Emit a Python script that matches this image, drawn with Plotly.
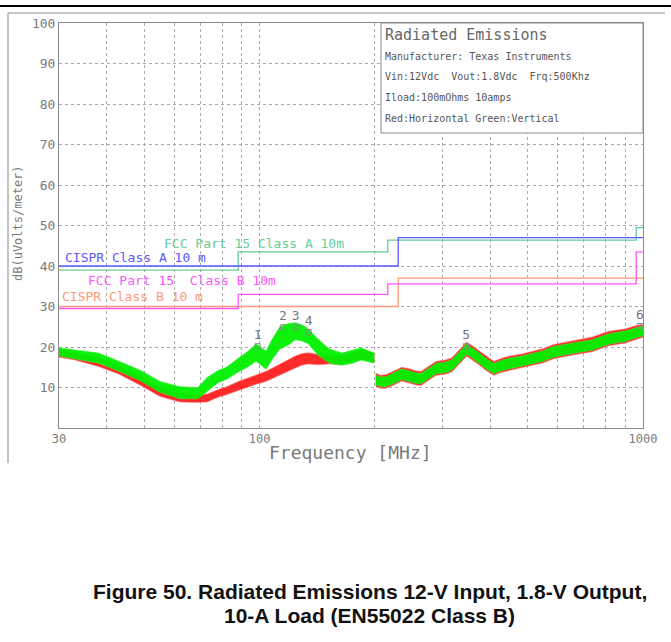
import plotly.graph_objects as go

W, H = 671, 642

# ---- limit lines (MHz breakpoints, dBuV/m) ----
fcc_a_freq = [30, 88, 216, 960, 1000]
fcc_a_level = [39.0, 43.5, 46.4, 49.5, 49.5]
cispr_a_freq = [30, 230, 1000]
cispr_a_level = [40.0, 47.0, 47.0]
fcc_b_freq = [30, 88, 216, 960, 1000]
fcc_b_level = [29.5, 33.0, 35.6, 43.5, 43.5]
cispr_b_freq = [30, 230, 1000]
cispr_b_level = [30.0, 37.0, 37.0]

# ---- measured sweeps: envelope of the noisy trace (upper / lower) ----
# band 1: 30 - 200 MHz
f1 = [30, 33, 38, 43, 49, 55, 62, 69, 73, 78, 82, 88, 93, 98, 104, 108,
      113, 119, 124, 129, 134, 142, 152, 164, 175, 184, 191, 199]
green1_hi = [19.8, 19.2, 18.5, 16.5, 14.2, 11.5, 10.2, 10.0, 12.5, 14.2, 15.0, 17.2, 18.8, 20.8,
             19.0, 22.0, 25.0, 25.8, 26.0, 25.5, 24.5, 22.0, 19.5, 18.5, 19.2, 19.8, 19.2, 18.5]
green1_lo = [17.8, 17.0, 16.0, 14.0, 11.6, 8.8, 7.2, 7.2, 9.0, 11.2, 12.0, 13.8, 15.0, 16.5,
             14.5, 17.0, 19.5, 20.5, 21.8, 21.5, 20.8, 18.0, 16.0, 15.5, 16.0, 16.8, 16.4, 16.0]
red1_hi = [19.5, 18.5, 17.2, 15.5, 12.8, 10.0, 8.4, 8.2, 8.4, 9.5, 10.2, 11.5, 12.3, 13.2,
           14.0, 14.8, 15.8, 16.8, 17.8, 18.4, 18.6, 18.2, 18.0, 17.8, 18.6, 19.4, 19.0, 18.5]
red1_lo = [17.5, 16.8, 15.2, 13.3, 10.5, 7.8, 6.4, 6.3, 6.4, 7.6, 8.2, 9.2, 10.0, 10.8,
           11.5, 12.2, 13.0, 14.0, 14.8, 15.5, 15.8, 15.6, 15.8, 15.6, 16.4, 17.0, 16.8, 16.2]

# band 2: 200 - 1000 MHz
f2 = [201, 207, 214, 224, 235, 247, 256, 264, 276, 289, 303, 317, 332, 347, 358, 370,
      388, 408, 430, 451, 483, 516, 550, 584, 628, 673, 737, 815, 901, 960, 1000]
green2_hi = [13.0, 12.6, 12.7, 13.6, 14.6, 14.1, 13.6, 13.5, 14.8, 16.0, 16.2, 16.8, 18.8, 20.8,
             19.8, 18.9, 17.3, 16.0, 16.8, 17.3, 17.8, 18.5, 19.1, 20.1, 20.7, 21.2, 21.8, 23.3,
             24.0, 24.8, 25.2]
green2_lo = [10.6, 10.2, 10.2, 11.0, 12.0, 11.5, 11.0, 10.9, 12.2, 13.4, 13.6, 14.2, 16.2, 18.2,
             17.2, 16.3, 14.7, 13.4, 14.2, 14.7, 15.2, 15.9, 16.5, 17.5, 18.1, 18.6, 19.2, 20.7,
             21.4, 22.2, 22.8]
red2_hi = [13.5, 13.0, 13.2, 14.1, 15.0, 14.6, 14.1, 14.0, 15.3, 16.5, 16.7, 17.3, 19.3, 21.2,
           20.4, 19.4, 17.8, 16.5, 17.3, 17.8, 18.3, 19.0, 19.6, 20.6, 21.2, 21.7, 22.5, 23.9,
           24.5, 25.3, 25.6]
red2_lo = [10.2, 9.8, 9.8, 10.6, 11.6, 11.1, 10.6, 10.5, 11.8, 13.0, 13.2, 13.8, 15.8, 17.7,
           16.8, 15.9, 14.3, 13.0, 13.8, 14.3, 14.8, 15.5, 16.1, 17.1, 17.7, 18.2, 18.8, 20.3,
           21.0, 21.8, 22.4]

# ---- peak markers ----
peak_labels = ["1", "2", "3", "4", "5", "6"]
peak_freq = [98.9, 115.0, 124.3, 134.3, 345.6, 981.0]
peak_level = [20.2, 24.9, 24.9, 23.7, 20.2, 25.2]

# ---- axis ticks ----
x_major = [30, 100, 1000]
x_major_text = ["30", "100", "1000"]
x_minor = [40, 50, 60, 70, 80, 90, 200, 300, 400, 500, 600, 700, 800, 900]
y_ticks = [10, 20, 30, 40, 50, 60, 70, 80, 90, 100]

info_lines = [
    "Manufacturer: Texas Instruments",
    "Vin:12Vdc  Vout:1.8Vdc  Frq:500Khz",
    "Iload:100mOhms 10amps",
    "Red:Horizontal Green:Vertical",
]

GRAY = "#8a8a8a"
TXT = "#7a7a7a"
MONO = "DejaVu Sans Mono"

C_FCC_A = "#66cc99"
C_CISPR_A = "#5a5aff"
C_FCC_B = "#ff55ff"
C_CISPR_B = "#ff9977"


def px(x):
    return x / W


def py(y):
    return 1 - y / H


fig = go.Figure()


def band(freq, hi, lo, fill, edge):
    fig.add_trace(go.Scatter(
        x=list(freq) + list(freq)[::-1],
        y=list(hi) + list(lo)[::-1],
        mode="lines", fill="toself", fillcolor=fill,
        line=dict(color=edge, width=0.6), hoverinfo="skip", showlegend=False,
    ))


# horizontal polarisation (red) under vertical polarisation (green)
for f, hi, lo in [(f1, red1_hi, red1_lo), (f2, red2_hi, red2_lo)]:
    band(f, hi, lo, "rgba(255,20,20,0.9)", "rgba(255,130,130,0.9)")
for f, hi, lo in [(f1, green1_hi, green1_lo), (f2, green2_hi, green2_lo)]:
    band(f, hi, lo, "rgba(0,240,0,0.95)", "#33ee33")

# limit lines
for fr, lv, col in [(cispr_b_freq, cispr_b_level, C_CISPR_B),
                    (fcc_b_freq, fcc_b_level, C_FCC_B),
                    (fcc_a_freq, fcc_a_level, C_FCC_A),
                    (cispr_a_freq, cispr_a_level, C_CISPR_A)]:
    fig.add_trace(go.Scatter(x=fr, y=lv, mode="lines", line_shape="hv",
                             line=dict(color=col, width=1.3),
                             hoverinfo="skip", showlegend=False))

# peak markers
fig.add_trace(go.Scatter(
    x=peak_freq, y=peak_level, mode="markers+text", text=peak_labels,
    textposition="top center", textfont=dict(family=MONO, size=13, color="#777777"),
    marker=dict(symbol="square-open", size=5, color="#888888", line=dict(width=1)),
    hoverinfo="skip", showlegend=False, cliponaxis=False,
))

fig.update_xaxes(
    type="log", range=[1.4771213, 3.0], domain=[px(59), px(643)], automargin=False,
    tickvals=x_major, ticktext=x_major_text, ticks="",
    tickfont=dict(family=MONO, size=12, color=TXT),
    showgrid=True, gridcolor="#aaaaaa", griddash="dot", gridwidth=1,
    minor=dict(tickvals=x_minor, showgrid=True, gridcolor="#aaaaaa",
               griddash="dot", gridwidth=1, ticks=""),
    showline=True, mirror=True, linecolor=GRAY, linewidth=1, zeroline=False,
)
fig.update_yaxes(
    range=[0, 100], domain=[py(428), py(23)], automargin=False,
    tickvals=y_ticks, ticks="",
    tickfont=dict(family=MONO, size=13, color=TXT),
    showgrid=True, gridcolor="#aaaaaa", griddash="dot", gridwidth=1,
    showline=True, mirror=True, linecolor=GRAY, linewidth=1, zeroline=False,
)

shapes = [
    dict(type="line", xref="paper", yref="paper", x0=0, x1=1, y0=py(6), y1=py(6),
         line=dict(color="#000000", width=2)),
    dict(type="line", xref="paper", yref="paper", x0=px(8), x1=px(665), y0=py(13), y1=py(13),
         line=dict(color=GRAY, width=1)),
    dict(type="line", xref="paper", yref="paper", x0=px(8), x1=px(8), y0=py(13), y1=py(463),
         line=dict(color=GRAY, width=1)),
    dict(type="rect", xref="paper", yref="paper", x0=px(381), x1=px(643), y0=py(133), y1=py(23),
         fillcolor="white", line=dict(color=GRAY, width=1), layer="above"),
]

annotations = []


def txt(text, x, y, size, color, family=MONO, xanchor="left", angle=0, bold=False):
    annotations.append(dict(
        text=f"<b>{text}</b>" if bold else text, xref="paper", yref="paper",
        x=px(x), y=py(y), xanchor=xanchor, yanchor="middle", showarrow=False,
        textangle=angle, font=dict(family=family, size=size, color=color),
    ))


# info box
txt("Radiated Emissions", 383, 35, 15, "#666666")
for i, line in enumerate(info_lines):
    txt(line, 383, 56 + i * 20.7, 10, "#555555")

# limit labels
txt("FCC Part 15 Class A 10m", 162, 243, 13, C_FCC_A)
txt("CISPR Class A 10 m", 63, 257, 13, C_CISPR_A)
txt("FCC Part 15  Class B 10m", 86, 280, 13, C_FCC_B)
txt("CISPR Class B 10 m", 60, 296, 13, C_CISPR_B)

# axis titles
txt("Frequency [MHz]", 350, 452, 18, TXT, xanchor="center")
txt("dB(uVolts/meter)", 18, 223, 12, TXT, xanchor="center", angle=-90)

# caption
txt("Figure 50. Radiated Emissions 12-V Input, 1.8-V Output,", 370, 591, 21, "#111111",
    family="Liberation Sans", xanchor="center", bold=True)
txt("10-A Load (EN55022 Class B)", 370, 615, 21, "#111111",
    family="Liberation Sans", xanchor="center", bold=True)

fig.update_layout(
    width=W, height=H, margin=dict(l=0, r=0, t=0, b=0),
    paper_bgcolor="white", plot_bgcolor="white",
    shapes=shapes, annotations=annotations, showlegend=False,
)

fig.write_html("out.html")
